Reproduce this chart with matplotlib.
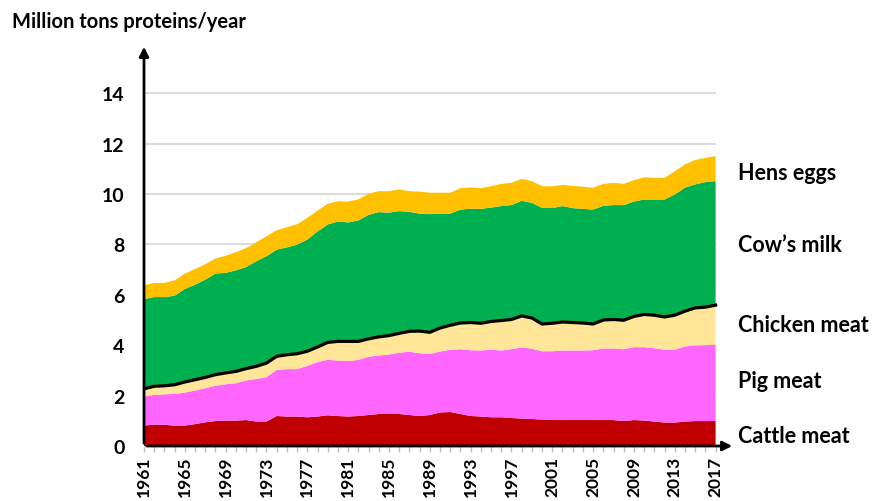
import numpy as np
import matplotlib
matplotlib.use("Agg")
import matplotlib.pyplot as plt

plt.rcParams['font.family'] = ['Lato', 'DejaVu Sans']

# Data (million tons of protein per year)
years = list(range(1961, 2018))

cattle = [0.81, 0.85, 0.84, 0.81, 0.81, 0.87, 0.94, 0.99, 1.01, 1.01,
          1.03, 0.97, 0.97, 1.19, 1.17, 1.17, 1.14, 1.17, 1.22, 1.19,
          1.17, 1.19, 1.23, 1.27, 1.27, 1.27, 1.23, 1.19, 1.23, 1.33,
          1.35, 1.27, 1.19, 1.17, 1.14, 1.14, 1.11, 1.09, 1.07, 1.05,
          1.03, 1.03, 1.03, 1.03, 1.03, 1.03, 1.03, 0.99, 1.03, 1.01,
          0.97, 0.93, 0.93, 0.97, 0.99, 0.99, 0.99]

pig = [1.15, 1.18, 1.21, 1.26, 1.31, 1.33, 1.35, 1.40, 1.44, 1.48,
       1.57, 1.69, 1.76, 1.83, 1.88, 1.88, 2.04, 2.16, 2.20, 2.20,
       2.20, 2.23, 2.31, 2.32, 2.36, 2.43, 2.51, 2.49, 2.42, 2.42,
       2.47, 2.57, 2.61, 2.62, 2.68, 2.65, 2.73, 2.82, 2.79, 2.71,
       2.73, 2.76, 2.76, 2.76, 2.77, 2.84, 2.84, 2.85, 2.89, 2.91,
       2.91, 2.89, 2.89, 2.98, 3.00, 3.01, 3.03]

chicken = [0.31, 0.34, 0.34, 0.36, 0.42, 0.43, 0.43, 0.44, 0.45, 0.47,
           0.47, 0.50, 0.56, 0.54, 0.57, 0.61, 0.58, 0.60, 0.69, 0.76,
           0.78, 0.73, 0.71, 0.74, 0.75, 0.77, 0.81, 0.88, 0.86, 0.93,
           0.97, 1.04, 1.10, 1.08, 1.12, 1.19, 1.18, 1.25, 1.22, 1.08,
           1.11, 1.13, 1.11, 1.09, 1.04, 1.13, 1.15, 1.15, 1.22, 1.30,
           1.31, 1.30, 1.37, 1.40, 1.49, 1.51, 1.57]

milk = [3.56, 3.54, 3.52, 3.53, 3.69, 3.77, 3.88, 4.01, 3.97, 4.01,
        4.03, 4.17, 4.24, 4.23, 4.26, 4.33, 4.43, 4.58, 4.68, 4.76,
        4.72, 4.80, 4.92, 4.95, 4.88, 4.85, 4.74, 4.66, 4.69, 4.54,
        4.43, 4.50, 4.52, 4.54, 4.52, 4.54, 4.54, 4.57, 4.57, 4.61,
        4.57, 4.60, 4.54, 4.53, 4.54, 4.53, 4.54, 4.57, 4.56, 4.56,
        4.59, 4.66, 4.79, 4.90, 4.90, 4.96, 4.92]

eggs = [0.55, 0.56, 0.56, 0.61, 0.61, 0.62, 0.61, 0.60, 0.68, 0.72,
        0.75, 0.75, 0.79, 0.77, 0.80, 0.81, 0.86, 0.83, 0.82, 0.80,
        0.83, 0.83, 0.84, 0.83, 0.85, 0.86, 0.82, 0.87, 0.85, 0.83,
        0.83, 0.85, 0.84, 0.82, 0.85, 0.88, 0.88, 0.87, 0.86, 0.86,
        0.86, 0.84, 0.88, 0.88, 0.87, 0.87, 0.88, 0.84, 0.85, 0.88,
        0.86, 0.86, 0.92, 0.92, 0.97, 0.96, 0.99]

labels = ["Cattle meat", "Pig meat", "Chicken meat", "Cow\u2019s milk", "Hens eggs"]
colors = ["#C00000", "#FF66FF", "#FFE699", "#00B050", "#FFC000"]
yticks = [0, 2, 4, 6, 8, 10, 12, 14]

fig = plt.figure(figsize=(8.75, 5.02), dpi=100)
ax = fig.add_axes([144 / 875, 1 - 447 / 502, (735 - 144) / 875, (447 - 45) / 502])

ax.set_xlim(1961, 2018.9)
ax.set_ylim(0, 15.95)

# light grid, only over the data span
ax.hlines(yticks[1:], years[0], years[-1], color="#D9D9D9", lw=1.3, zorder=0)

ax.stackplot(years, cattle, pig, chicken, milk, eggs, colors=colors, lw=0, zorder=2)
meat_top = np.array(cattle) + np.array(pig) + np.array(chicken)
ax.plot(years, meat_top, color="black", lw=2.3, zorder=3)

# axes drawn as arrows
for s in ax.spines.values():
    s.set_visible(False)
ax.annotate("", xy=(2018.9, 0), xytext=(1961, 0), xycoords="data",
            arrowprops=dict(arrowstyle="-|>", color="black", lw=2, mutation_scale=14),
            annotation_clip=False, zorder=5)
ax.annotate("", xy=(1961, 15.95), xytext=(1961, 0), xycoords="data",
            arrowprops=dict(arrowstyle="-|>", color="black", lw=2, mutation_scale=14),
            annotation_clip=False, zorder=5)

ax.set_yticks(yticks)
ax.set_yticklabels([str(v) for v in yticks], fontsize=14, fontweight="bold")
ax.tick_params(axis="y", length=0, pad=14)

ax.set_xticks(years[::4])
ax.set_xticklabels([str(y) for y in years[::4]], rotation=90, fontsize=12.5,
                   fontweight="bold")
ax.set_xticks(years, minor=True)
ax.tick_params(axis="x", which="both", length=4, width=1, color="#BFBFBF",
               direction="out", pad=3)

fig.text(12 / 875, 1 - 22 / 502, "Million tons proteins/year", fontsize=14.5,
         fontweight="bold", ha="left", va="center")

label_y = [0.40, 2.58, 4.81, 7.99, 10.85]
for name, yv in zip(labels, label_y):
    ax.text(2019.2, yv, name, fontsize=15.5, fontweight="bold", ha="left",
            va="center", clip_on=False)

fig.savefig("out.png", dpi=100)
